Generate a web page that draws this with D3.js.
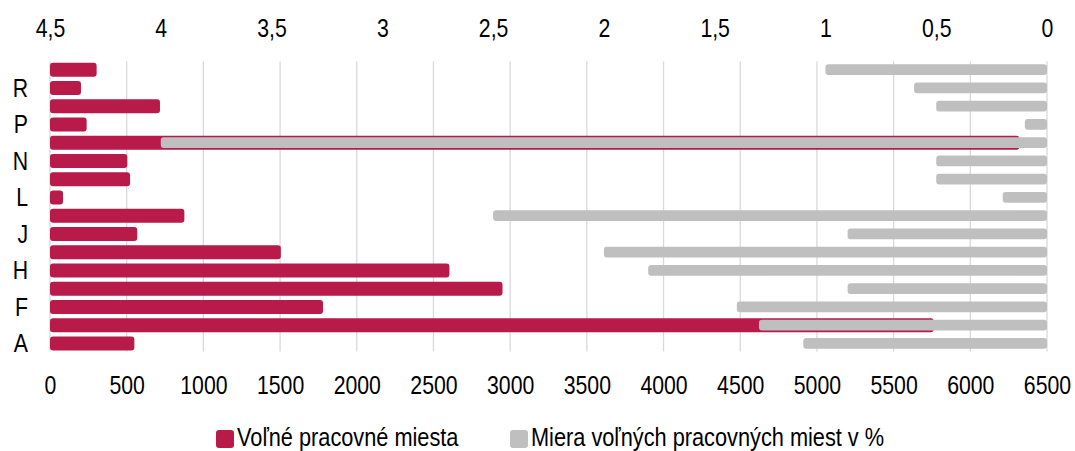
<!DOCTYPE html>
<html>
<head>
<meta charset="utf-8">
<script src="https://cdn.jsdelivr.net/npm/d3@7"></script>
<style>
  body { margin: 0; background: #fff; }
  text { font-family: "Liberation Sans", Arial, sans-serif; fill: #000; }
</style>
</head>
<body>
<div id="chart-area"></div>
<script>
// categories from top to bottom (SK NACE sections)
var categories = ['S', 'R', 'Q', 'P', 'O', 'N', 'M', 'L', 'K', 'J', 'I', 'H', 'G', 'F', 'B-E', 'A'];
// labels that are actually printed on the axis
var shownLabels = ['R', 'P', 'N', 'L', 'J', 'H', 'F', 'A'];
// Voľné pracovné miesta (bottom axis)
var vacancies = [304, 202, 717, 239, 6320, 504, 522, 85, 876, 569, 1505, 2604, 2950, 1780, 5761, 550];
// Miera voľných pracovných miest v % (top axis, reversed)
var rate = [1.0, 0.6, 0.5, 0.1, 4.0, 0.5, 0.5, 0.2, 2.5, 0.9, 2.0, 1.8, 0.9, 1.4, 1.3, 1.1];
var bottomTicks = [0, 500, 1000, 1500, 2000, 2500, 3000, 3500, 4000, 4500, 5000, 5500, 6000, 6500];
var topTicks = [4.5, 4, 3.5, 3, 2.5, 2, 1.5, 1, 0.5, 0];
var legendNames = ['Voľné pracovné miesta', 'Miera voľných pracovných miest v %'];

var def = {
    width: 1075,
    height: 451,
    left: 50,
    right: 1047,
    top: 60.6,
    bottom: 352.5,
    red: '#B81B4A',
    grey: '#BFBFBF',
    grid: '#D9D9D9',
    fontSize: 25,
    squeeze: 0.85   // narrow look of the original font
};

var svg = d3.select('#chart-area').append('svg')
    .attr('width', def.width)
    .attr('height', def.height);

var x = d3.scaleLinear().domain([0, 6500]).range([def.left, def.right]);
var x2 = d3.scaleLinear().domain([4.5, 0]).range([def.left, def.right]);
var y = d3.scaleBand().domain(categories).range([def.top, def.bottom]).padding(0);

// gridlines
svg.append('g').selectAll('line')
    .data(bottomTicks)
    .enter().append('line')
    .attr('x1', d => x(d)).attr('x2', d => x(d))
    .attr('y1', def.top + 1).attr('y2', def.bottom - 1)
    .attr('stroke', def.grid)
    .attr('stroke-width', 1.3);

// bottom axis
var xAxis = d3.axisBottom(x).tickValues(bottomTicks).tickSize(0).tickPadding(0).tickFormat(d3.format('d'));
var xLeg = svg.append('g')
    .attr('transform', 'translate(0,376)')
    .call(xAxis);

// top axis
var x2Axis = d3.axisTop(x2).tickValues(topTicks).tickSize(0).tickPadding(0)
    .tickFormat(d => String(d).replace('.', ','));
var x2Leg = svg.append('g')
    .attr('transform', 'translate(0,37)')
    .call(x2Axis);

[xLeg, x2Leg].forEach(function (g) {
    g.select('.domain').remove();
    g.selectAll('text')
        .attr('font-size', def.fontSize)
        .attr('font-family', null)
        .attr('fill', '#000')
        .attr('transform', 'scale(' + def.squeeze + ',1)');
});
xLeg.selectAll('text').attr('y', 0).attr('dy', '0.71em');
x2Leg.selectAll('text').attr('y', 0).attr('dy', 0);

// category labels
svg.append('g').selectAll('text')
    .data(categories.filter(c => shownLabels.indexOf(c) >= 0))
    .enter().append('text')
    .attr('transform', d => 'translate(28,' + (y(d) + y.bandwidth() / 2) + ') scale(' + def.squeeze + ',1)')
    .attr('dy', '0.36em')
    .attr('text-anchor', 'end')
    .attr('font-size', def.fontSize)
    .text(d => d);

// red bars
var redH = 14, greyH = 10.7;
svg.append('g').selectAll('rect')
    .data(vacancies)
    .enter().append('rect')
    .attr('x', x(0))
    .attr('y', (d, i) => y(categories[i]) + (y.bandwidth() - redH) / 2)
    .attr('width', d => x(d) - x(0))
    .attr('height', redH)
    .attr('rx', 3)
    .attr('fill', def.red);

// grey bars (from right edge)
svg.append('g').selectAll('rect')
    .data(rate)
    .enter().append('rect')
    .attr('x', d => x2(d))
    .attr('y', (d, i) => y(categories[i]) + (y.bandwidth() - greyH) / 2)
    .attr('width', d => x2(0) - x2(d))
    .attr('height', greyH)
    .attr('rx', 3)
    .attr('fill', def.grey);

// legend
var legend = svg.append('g');
var items = [
    { name: legendNames[0], color: def.red, x: 216 },
    { name: legendNames[1], color: def.grey, x: 510 }
];
items.forEach(function (it) {
    legend.append('rect')
        .attr('x', it.x).attr('y', 430)
        .attr('width', 18).attr('height', 18)
        .attr('rx', 3)
        .attr('fill', it.color);
    legend.append('text')
        .attr('transform', 'translate(' + (it.x + 21) + ',446) scale(0.87,1)')
        .attr('font-size', def.fontSize)
        .text(it.name);
});
</script>
</body>
</html>
